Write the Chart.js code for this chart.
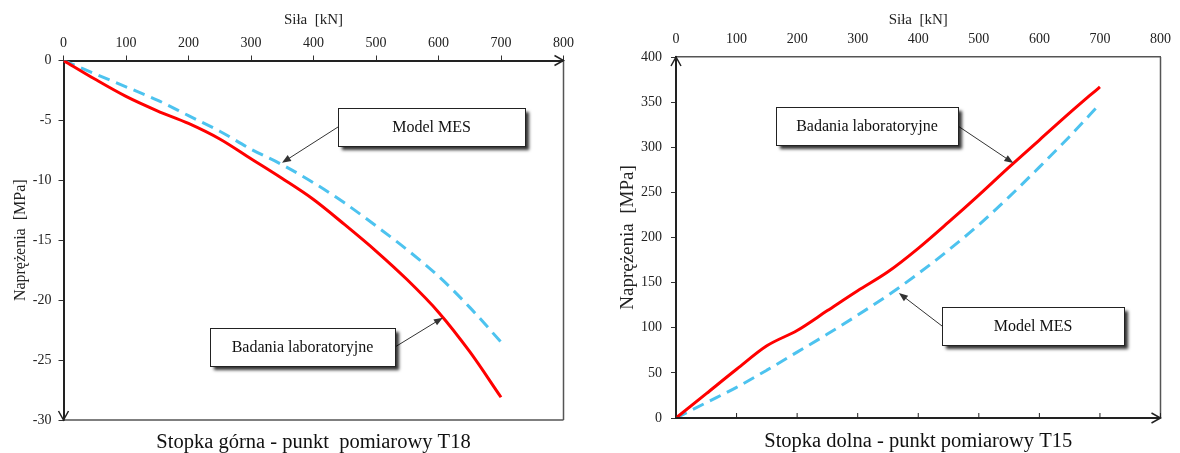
<!DOCTYPE html>
<html>
<head>
<meta charset="utf-8">
<script src="https://cdn.jsdelivr.net/npm/chart.js@4.4.1/dist/chart.umd.min.js"></script>
<style>
  html, body { margin: 0; padding: 0; background: #fff; }
  #wrap { position: relative; width: 1180px; height: 453px; }
  .pane { position: absolute; top: 0; width: 590px; height: 453px; }
</style>
</head>
<body>
<div id="wrap">
  <div class="pane" style="left:0"><canvas id="chartT18" width="590" height="453"></canvas></div>
  <div class="pane" style="left:590px"><canvas id="chartT15" width="590" height="453"></canvas></div>
</div>
<script>
// Siła [kN]
const forceKN = [0, 50, 100, 150, 200, 250, 300, 350, 400, 450, 500, 550, 600, 650, 700];

// Stopka górna - T18 [MPa]
const t18Lab = [0, -1.55, -3.0, -4.2, -5.25, -6.55, -8.2, -9.85, -11.6, -13.7, -15.9, -18.3, -21.0, -24.3, -28.1];
const t18Mes = [0, -1.1, -2.2, -3.3, -4.6, -5.9, -7.4, -8.7, -10.2, -11.9, -13.8, -15.8, -18.0, -20.6, -23.5];

// Stopka dolna - T15 [MPa]
const t15Lab = [0, 27, 54, 80, 97, 119, 141, 162, 188, 217, 247, 278, 308, 338, 367];
const t15Mes = [0, 17, 34, 53, 73, 93, 114, 136, 160, 186, 214, 245, 278, 312, 348];

const serif = '"Liberation Serif", "Times New Roman", serif';
const RED = '#ff0000';
const BLUE = '#4dc3ef';

function toPoints(xs, ys) {
    return xs.map((x, i) => ({ x: x, y: ys[i] }));
}

function seriesSets(lab, mes) {
    return [{
        label: 'Badania laboratoryjne',
        data: toPoints(forceKN, lab),
        borderColor: RED,
        borderWidth: 3,
        pointRadius: 0,
        cubicInterpolationMode: 'monotone'
    }, {
        label: 'Model MES',
        data: toPoints(forceKN, mes),
        borderColor: BLUE,
        borderWidth: 3,
        borderDash: [12, 7],
        pointRadius: 0,
        cubicInterpolationMode: 'monotone'
    }];
}

function openArrow(ctx, x, y, dir) {
    // dir: 'right' | 'down' | 'up'
    const l = 9, w = 5;
    ctx.beginPath();
    if (dir === 'right') { ctx.moveTo(x - l, y - w); ctx.lineTo(x, y); ctx.lineTo(x - l, y + w); }
    if (dir === 'down') { ctx.moveTo(x - w, y - l); ctx.lineTo(x, y); ctx.lineTo(x + w, y - l); }
    if (dir === 'up') { ctx.moveTo(x - w, y + l); ctx.lineTo(x, y); ctx.lineTo(x + w, y + l); }
    ctx.stroke();
}

function decorPlugin(cfg) {
    return {
        id: 'decor',
        afterDraw(chart) {
            const ctx = chart.ctx;
            const a = chart.chartArea;
            const xs = chart.scales.x, ys = chart.scales.y;
            ctx.save();

            // thin frame edges
            ctx.strokeStyle = '#555';
            ctx.lineWidth = 1.5;
            ctx.beginPath();
            ctx.moveTo(a.right, a.top);
            ctx.lineTo(a.right, a.bottom);
            if (cfg.zeroAtTop) {
                ctx.moveTo(a.left, a.bottom);
                ctx.lineTo(a.right, a.bottom);
            }
            ctx.stroke();

            ctx.strokeStyle = '#222';
            ctx.lineWidth = 1.5;
            if (cfg.zeroAtTop) {
                openArrow(ctx, a.right, a.top, 'right');
                openArrow(ctx, a.left, a.bottom, 'down');
            } else {
                // bottom axis with inner ticks
                ctx.lineWidth = 2;
                ctx.beginPath();
                ctx.moveTo(a.left, a.bottom);
                ctx.lineTo(a.right, a.bottom);
                ctx.stroke();
                ctx.lineWidth = 1;
                ctx.beginPath();
                xs.ticks.forEach(t => {
                    const px = xs.getPixelForValue(t.value);
                    ctx.moveTo(px, a.bottom);
                    ctx.lineTo(px, a.bottom - 5);
                });
                ctx.stroke();
                ctx.lineWidth = 1.5;
                openArrow(ctx, a.right, a.bottom, 'right');
                openArrow(ctx, a.left, a.top, 'up');
            }

            // callouts
            cfg.callouts.forEach(c => {
                const x1 = xs.getPixelForValue(c.box[0]), x2 = xs.getPixelForValue(c.box[1]);
                const y1 = ys.getPixelForValue(c.box[2]), y2 = ys.getPixelForValue(c.box[3]);
                const L = Math.round(Math.min(x1, x2)), T = Math.round(Math.min(y1, y2));
                const W = Math.round(Math.abs(x2 - x1)), H = Math.round(Math.abs(y2 - y1));
                const sx = c.from === 'left' ? L : L + W, sy = T + H / 2;
                const tx = xs.getPixelForValue(c.tip[0]), ty = ys.getPixelForValue(c.tip[1]);
                const ang = Math.atan2(ty - sy, tx - sx);

                ctx.strokeStyle = '#333';
                ctx.fillStyle = '#333';
                ctx.lineWidth = 1;
                ctx.beginPath();
                ctx.moveTo(sx, sy);
                ctx.lineTo(tx - 6 * Math.cos(ang), ty - 6 * Math.sin(ang));
                ctx.stroke();
                ctx.beginPath();
                ctx.moveTo(tx, ty);
                ctx.lineTo(tx - 9 * Math.cos(ang) + 3.5 * Math.sin(ang), ty - 9 * Math.sin(ang) - 3.5 * Math.cos(ang));
                ctx.lineTo(tx - 9 * Math.cos(ang) - 3.5 * Math.sin(ang), ty - 9 * Math.sin(ang) + 3.5 * Math.cos(ang));
                ctx.closePath();
                ctx.fill();

                ctx.save();
                ctx.shadowColor = 'rgba(0,0,0,0.8)';
                ctx.shadowBlur = 3;
                ctx.shadowOffsetX = 4;
                ctx.shadowOffsetY = 4;
                ctx.fillStyle = '#fff';
                ctx.fillRect(L, T, W, H);
                ctx.restore();
                ctx.strokeStyle = '#222';
                ctx.strokeRect(L + 0.5, T + 0.5, W, H);

                ctx.fillStyle = '#111';
                ctx.font = '16px ' + serif;
                ctx.textAlign = 'center';
                ctx.textBaseline = 'middle';
                ctx.fillText(c.text, L + W / 2, T + H / 2 + 1);
            });

            // caption under the plot
            ctx.fillStyle = '#111';
            ctx.font = '20.5px ' + serif;
            ctx.textAlign = 'center';
            ctx.textBaseline = 'middle';
            ctx.fillText(cfg.caption, (a.left + a.right) / 2, cfg.captionY);
            ctx.restore();
        }
    };
}

function makeChart(id, o) {
    return new Chart(document.getElementById(id), {
        type: 'line',
        data: { datasets: seriesSets(o.lab, o.mes) },
        options: {
            responsive: false,
            animation: false,
            events: [],
            layout: { padding: { left: 0, top: 0, right: o.padRight, bottom: o.padBottom } },
            plugins: { legend: { display: false }, tooltip: { enabled: false } },
            scales: {
                x: {
                    type: 'linear',
                    position: 'top',
                    min: 0,
                    max: 800,
                    ticks: { stepSize: 100, color: '#222', font: { family: serif, size: 14 }, padding: o.xTickPad },
                    grid: { drawOnChartArea: false, drawTicks: o.zeroAtTop, tickLength: 5, color: '#333', lineWidth: 1 },
                    border: { display: true, color: o.zeroAtTop ? '#222' : '#555', width: o.zeroAtTop ? 2 : 1.5 },
                    title: { display: true, text: 'Siła  [kN]', color: '#222', font: { family: serif, size: 15 }, padding: { top: 11, bottom: 0 } },
                    afterFit: s => { s.height = o.top; }
                },
                y: {
                    type: 'linear',
                    min: o.yMin,
                    max: o.yMax,
                    ticks: { stepSize: o.yStep, color: '#222', font: { family: serif, size: 14 }, padding: o.yTickPad },
                    grid: { drawOnChartArea: false, drawTicks: true, tickLength: 5, color: '#333', lineWidth: 1 },
                    border: { display: true, color: '#222', width: 2 },
                    title: { display: true, text: 'Naprężenia  [MPa]', color: '#222', font: { family: serif, size: o.yTitleSize }, padding: { top: o.yTitlePad, bottom: 0 } },
                    afterFit: s => { s.width = o.left; }
                }
            }
        },
        plugins: [decorPlugin(o)]
    });
}

makeChart('chartT18', {
    lab: t18Lab, mes: t18Mes,
    yMin: -30, yMax: 0, yStep: 5,
    zeroAtTop: true,
    left: 63.5, top: 60.5, padRight: 26.5, padBottom: 33,
    xTickPad: 4, yTickPad: 7,
    yTitleSize: 16, yTitlePad: 11,
    caption: 'Stopka górna - punkt  pomiarowy T18', captionY: 443,
    callouts: [
        { text: 'Model MES', box: [439, 738, -3.96, -7.13], tip: [349.6, -8.54], from: 'left' },
        { text: 'Badania laboratoryjne', box: [234, 530, -22.3, -25.5], tip: [607, -21.46], from: 'right' }
    ]
});

makeChart('chartT15', {
    lab: t15Lab, mes: t15Mes,
    yMin: 0, yMax: 400, yStep: 50,
    zeroAtTop: false,
    left: 86, top: 57, padRight: 11, padBottom: 35,
    xTickPad: 9, yTickPad: 9,
    yTitleSize: 19, yTitlePad: 26.5,
    caption: 'Stopka dolna - punkt pomiarowy T15', captionY: 442,
    callouts: [
        { text: 'Badania laboratoryjne', box: [165, 466, 344.6, 302.5], tip: [557, 282.5], from: 'right' },
        { text: 'Model MES', box: [439, 740, 123, 81], tip: [368, 138.5], from: 'left' }
    ]
});
</script>
</body>
</html>
